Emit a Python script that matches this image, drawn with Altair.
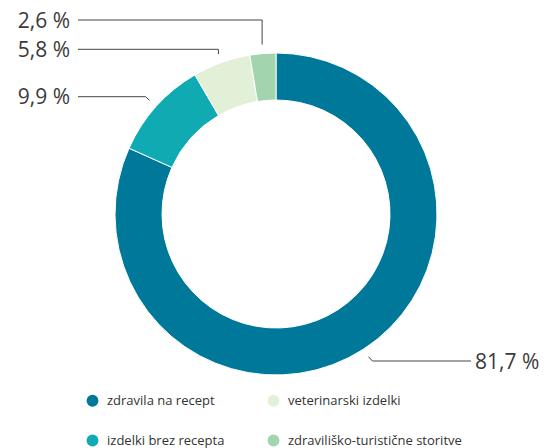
import math
import altair as alt
import pandas as pd

# ---- data (arc order, clockwise from 12 o'clock) ----
categories = ["zdravila na recept", "izdelki brez recepta", "veterinarski izdelki", "zdraviliško-turistične storitve"]
shares = [81.7, 9.9, 5.8, 2.6]
colors = ["#00789A", "#10AAB3", "#E2F0D8", "#A2D4AE"]

# ---- layout (chart coordinates, not data) ----
W, H = 536, 440
CX, CY = 268, 206
R_IN, R_OUT = 114, 161
LEADER_R = 170
label_row_y = [353, 88.7, 41.3, 12]          # y of each label's horizontal leader
label_side = ["right", "left", "left", "left"]
corner_dx = [4, -4, 0, 0]
LEFT_LINE_X = 70
RIGHT_LINE_X = 463

label_text = [f"{v:.1f}".replace(".", ",") + " %" for v in shares]

df = pd.DataFrame({"cat": categories, "share": shares, "ord": range(len(categories))})

# leader line points computed from the slice mid-angles
total = sum(shares)
rows_line, rows_text = [], []
cum = 0.0
for i, (c, v) in enumerate(zip(categories, shares)):
    a = 2 * math.pi * (cum + v / 2) / total
    cum += v
    ax = CX + LEADER_R * math.sin(a)
    ay = CY - LEADER_R * math.cos(a)
    ry = label_row_y[i]
    cx = ax + corner_dx[i]
    ex = RIGHT_LINE_X if label_side[i] == "right" else LEFT_LINE_X
    for k, (px, py) in enumerate([(ax, ay), (cx, ry), (ex, ry)]):
        rows_line.append({"cat": c, "k": k, "px": px, "py": py})
    tx = ex + 4 if label_side[i] == "right" else ex - 8
    rows_text.append({"cat": c, "tx": tx, "ty": ry + 1.5, "txt": label_text[i], "side": label_side[i]})

lines_df = pd.DataFrame(rows_line)
text_df = pd.DataFrame(rows_text)

xs = alt.Scale(domain=[0, W], nice=False, zero=False)
ys = alt.Scale(domain=[0, H], nice=False, zero=False, reverse=True)

arc = alt.Chart(df).mark_arc(innerRadius=R_IN, outerRadius=R_OUT, stroke="white", strokeWidth=1).encode(
    theta=alt.Theta("share:Q", stack=True),
    order=alt.Order("ord:Q", sort="ascending"),
    color=alt.Color(
        "cat:N",
        scale=alt.Scale(domain=categories, range=colors),
        legend=alt.Legend(
            title=None,
            orient="none",
            direction="vertical",
            legendX=78,
            legendY=386,
            columns=2,
            columnPadding=42,
            rowPadding=26,
            symbolType="circle",
            symbolSize=140,
            symbolStrokeWidth=0,
            labelFont="Open Sans",
            labelFontSize=13,
            labelColor="#333333",
            labelOffset=8,
            labelLimit=300,
        ),
    ),
    x=alt.value(CX),
    y=alt.value(CY),
)

lines = alt.Chart(lines_df).mark_line(color="#444444", strokeWidth=1, interpolate="linear").encode(
    x=alt.X("px:Q", scale=xs, axis=None),
    y=alt.Y("py:Q", scale=ys, axis=None),
    detail="cat:N",
    order="k:Q",
)

text_style = dict(baseline="middle", font="Open Sans", fontSize=21, fontWeight=400, color="#3a3a3a")

text_left = alt.Chart(text_df[text_df.side == "left"]).mark_text(align="right", **text_style).encode(
    x=alt.X("tx:Q", scale=xs, axis=None),
    y=alt.Y("ty:Q", scale=ys, axis=None),
    text="txt:N",
)
text_right = alt.Chart(text_df[text_df.side == "right"]).mark_text(align="left", **text_style).encode(
    x=alt.X("tx:Q", scale=xs, axis=None),
    y=alt.Y("ty:Q", scale=ys, axis=None),
    text="txt:N",
)

chart = alt.layer(arc, lines, text_left, text_right).properties(
    width=W, height=H, padding=0, autosize="none"
).configure_view(stroke=None)

chart.save("out.html", embed_options={"renderer": "svg", "actions": False})
